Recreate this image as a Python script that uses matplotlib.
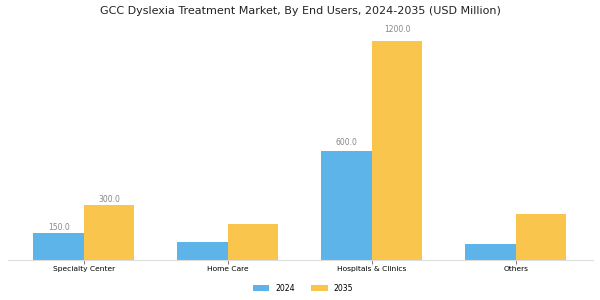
import matplotlib
matplotlib.use("Agg")
import matplotlib.pyplot as plt
import numpy as np

categories = ["Specialty Center", "Home Care", "Hospitals & Clinics", "Others"]
values_2024 = [150.0, 100.0, 600.0, 90.0]
values_2035 = [300.0, 200.0, 1200.0, 250.0]
# only some bars carry a value label in the original
labels_2024 = ["150.0", None, "600.0", None]
labels_2035 = ["300.0", None, "1200.0", None]

c2024 = "#5DB4E8"
c2035 = "#F9C54C"

fig = plt.figure(figsize=(6, 3), dpi=100)
ax = fig.add_axes([0.013, 0.133, 0.975, 0.77])

x = np.arange(len(categories))
w = 0.35
b1 = ax.bar(x - w / 2, values_2024, w, color=c2024, label="2024")
b2 = ax.bar(x + w / 2, values_2035, w, color=c2035, label="2035")

for bars, labs in [(b1, labels_2024), (b2, labels_2035)]:
    for rect, lab in zip(bars, labs):
        if lab is None:
            continue
        h = rect.get_height()
        ax.text(rect.get_x() + rect.get_width() / 2, h + 22 + 0.033 * h, lab,
                ha="center", va="center", fontsize=5.5, color="#888888")

ax.set_xlim(-0.528, 3.535)
ax.set_ylim(0, 1265)
ax.set_xticks(x)
ax.set_xticklabels(categories, fontsize=5.4)
ax.set_yticks([])
for s in ["top", "right", "left"]:
    ax.spines[s].set_visible(False)
ax.spines["bottom"].set_color("#dddddd")
ax.tick_params(axis="x", length=3, width=0.6, color="#666666", pad=1.5)

fig.suptitle("GCC Dyslexia Treatment Market, By End Users, 2024-2035 (USD Million)",
             fontsize=8.0, y=0.98, color="#222222")
fig.legend(loc="lower center", bbox_to_anchor=(0.505, 0.0), ncol=2, frameon=False,
           fontsize=5.6, handlelength=2.1, handleheight=0.8, columnspacing=2.1)

fig.savefig("out.png", dpi=100)
